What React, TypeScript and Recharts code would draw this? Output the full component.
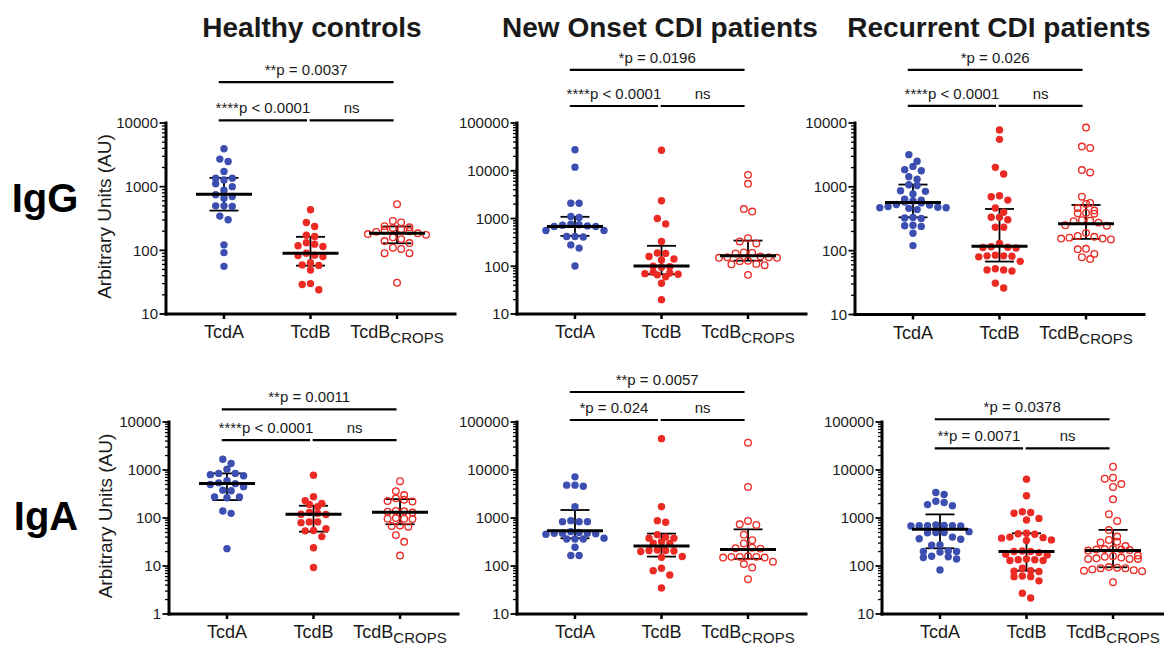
import React from 'react';
import { ScatterChart, Scatter, XAxis, YAxis, ErrorBar, ReferenceLine } from 'recharts';

const FONT = "'Liberation Sans', Arial, Helvetica, sans-serif";
const BLUE = '#3c4fb0';
const RED = '#ec2a24';
const INK = '#1a1a1a';

const categories = ['TcdA', 'TcdB', 'TcdB_CROPS'];
const groupTitles = ['Healthy controls', 'New Onset CDI patients', 'Recurrent CDI patients'];
const isotypes = ['IgG', 'IgA'];
const yAxisTitle = 'Arbitrary Units (AU)';

// ---------- IgG, healthy controls ----------
const hcIgG_TcdA = [3950, 2710, 2490, 1730, 1360, 1360, 1270, 1110, 1000, 880, 745, 700, 660, 500, 500, 490, 345, 303, 122, 92, 56];
const hcIgG_TcdB = [433, 273, 237, 173, 165, 132, 125, 118, 115, 90, 84, 83, 80, 64, 59, 58, 49, 30, 29, 24];
const hcIgG_CROPS = [531, 290, 275, 240, 230, 225, 215, 205, 200, 195, 185, 180, 175, 160, 150, 140, 130, 110, 105, 90, 90, 31];
const hcIgG_median = [762, 90, 186];
const hcIgG_q1 = [421, 57.5, 129];
const hcIgG_q3 = [1375, 163, 237];
const hcIgG_sig = [
  { from: 0, to: 1, level: 11000, label: '****p < 0.0001' },
  { from: 1, to: 2, level: 11000, label: 'ns' },
  { from: 0, to: 2, level: 44000, label: '**p = 0.0037' },
];

// ---------- IgG, new onset ----------
const noIgG_TcdA = [27500, 11900, 2090, 2090, 1100, 1050, 760, 740, 720, 700, 680, 680, 560, 560, 420, 420, 410, 280, 240, 101];
const noIgG_TcdB = [26900, 2350, 1000, 770, 330, 190, 186, 160, 142, 135, 100, 98, 95, 75, 72, 70, 68, 66, 60, 44, 20];
const noIgG_CROPS = [8200, 5330, 1580, 1400, 386, 330, 300, 195, 190, 185, 160, 155, 155, 150, 150, 130, 128, 112, 110, 105, 66];
const noIgG_median = [680, 101, 165];
const noIgG_q1 = [433, 68, 131];
const noIgG_q3 = [1085, 268, 345];
const noIgG_sig = [
  { from: 0, to: 1, level: 227000, label: '****p < 0.0001' },
  { from: 1, to: 2, level: 227000, label: 'ns' },
  { from: 0, to: 2, level: 1290000, label: '*p = 0.0196' },
];

// ---------- IgG, recurrent ----------
const reIgG_TcdA = [3190, 2510, 2090, 1860, 1790, 1440, 1320, 1080, 1050, 870, 850, 775, 640, 620, 600, 580, 560, 530, 520, 490, 480, 470, 470, 460, 440, 330, 325, 320, 250, 246, 240, 187, 120];
const reIgG_TcdB = [7800, 5540, 2020, 1590, 725, 700, 620, 465, 400, 333, 333, 305, 233, 233, 130, 115, 113, 112, 110, 85, 83, 83, 82, 80, 68, 52, 50, 48, 50, 31, 26];
const reIgG_CROPS = [8500, 4270, 4060, 1830, 1680, 700, 560, 540, 465, 425, 390, 385, 380, 300, 295, 290, 275, 250, 246, 190, 170, 165, 160, 155, 155, 150, 107, 105, 89, 79, 74];
const reIgG_median = [566, 117, 263];
const reIgG_q1 = [333, 67.5, 153];
const reIgG_q3 = [1085, 450, 520];
const reIgG_sig = [
  { from: 0, to: 1, level: 18500, label: '****p < 0.0001' },
  { from: 1, to: 2, level: 18500, label: 'ns' },
  { from: 0, to: 2, level: 68000, label: '*p = 0.026' },
];

// ---------- IgA, healthy controls ----------
const hcIgA_TcdA = [1680, 1365, 1040, 850, 850, 800, 760, 600, 540, 520, 500, 450, 380, 370, 275, 275, 265, 140, 125, 23];
const hcIgA_TcdB = [782, 277, 229, 200, 192, 172, 130, 125, 120, 118, 83, 83, 80, 60, 55, 54, 41, 24, 9.3];
const hcIgA_CROPS = [585, 363, 300, 257, 240, 225, 220, 140, 138, 135, 130, 100, 97, 95, 97, 68, 70, 66, 44, 32, 16.5];
const hcIgA_median = [525, 119, 131];
const hcIgA_q1 = [236, 52, 74];
const hcIgA_q3 = [850, 180, 247];
const hcIgA_sig = [
  { from: 0, to: 1, level: 4200, label: '****p < 0.0001' },
  { from: 1, to: 2, level: 4200, label: 'ns' },
  { from: 0, to: 2, level: 18400, label: '**p = 0.0011' },
];

// ---------- IgA, new onset ----------
const noIgA_TcdA = [7200, 4840, 4600, 4840, 1720, 880, 840, 840, 840, 520, 500, 480, 480, 480, 470, 460, 366, 366, 366, 380, 246, 165, 165];
const noIgA_TcdB = [45000, 1720, 880, 815, 450, 400, 380, 380, 320, 300, 295, 215, 210, 210, 205, 200, 158, 152, 90, 80, 65, 35];
const noIgA_CROPS = [37000, 4450, 870, 740, 715, 450, 345, 295, 240, 235, 230, 160, 155, 155, 150, 150, 155, 123, 110, 93, 53];
const noIgA_median = [545, 262, 220];
const noIgA_q1 = [378, 157, 141];
const noIgA_q3 = [1466, 473, 580];
const noIgA_sig = [
  { from: 0, to: 1, level: 110000, label: '*p = 0.024' },
  { from: 1, to: 2, level: 110000, label: 'ns' },
  { from: 0, to: 2, level: 422000, label: '**p = 0.0057' },
];

// ---------- IgA, recurrent ----------
const reIgA_TcdA = [3400, 3080, 2240, 2100, 1900, 1800, 690, 700, 680, 690, 720, 690, 680, 500, 520, 500, 490, 370, 400, 360, 275, 270, 200, 200, 195, 205, 155, 150, 160, 140, 83];
const reIgA_TcdB = [6450, 2910, 1350, 1260, 1300, 980, 910, 480, 460, 470, 400, 390, 380, 350, 340, 200, 205, 175, 170, 190, 200, 135, 130, 140, 130, 135, 90, 77, 78, 80, 60, 49, 62, 60, 27, 21.5];
const reIgA_CROPS = [11700, 6600, 6900, 5100, 4430, 2450, 1200, 870, 560, 410, 350, 320, 310, 230, 220, 210, 225, 215, 220, 260, 160, 155, 140, 140, 145, 165, 150, 140, 90, 92, 80, 82, 90, 85, 95, 78, 46];
const reIgA_median = [580, 200, 210];
const reIgA_q1 = [234, 80, 94];
const reIgA_q3 = [1190, 480, 565];
const reIgA_sig = [
  { from: 0, to: 1, level: 28300, label: '**p = 0.0071' },
  { from: 1, to: 2, level: 28300, label: 'ns' },
  { from: 0, to: 2, level: 114000, label: '*p = 0.0378' },
];

// ---------- layout ----------
const X_DOMAIN: [number, number] = [-0.67, 2.67];
const PLOT_W = 289;
const PX_PER_UNIT = PLOT_W / (X_DOMAIN[1] - X_DOMAIN[0]);
const DOT_STEP = 8.3;
const ROW_H = 7;
const M_TOP = 90;

type Sig = { from: number; to: number; level: number; label: string };
type PanelCfg = {
  id: string;
  left: number;
  top: number;
  h: number;
  yMin: number;
  yMax: number;
  groups: number[][];
  med: number[];
  q1: number[];
  q3: number[];
  sig: Sig[];
  yLabel: boolean;
};

const panels: PanelCfg[] = [
  { id: 'p1', left: 166, top: 123, h: 191, yMin: 10, yMax: 10000, groups: [hcIgG_TcdA, hcIgG_TcdB, hcIgG_CROPS], med: hcIgG_median, q1: hcIgG_q1, q3: hcIgG_q3, sig: hcIgG_sig, yLabel: true },
  { id: 'p2', left: 516.5, top: 123, h: 191, yMin: 10, yMax: 100000, groups: [noIgG_TcdA, noIgG_TcdB, noIgG_CROPS], med: noIgG_median, q1: noIgG_q1, q3: noIgG_q3, sig: noIgG_sig, yLabel: false },
  { id: 'p3', left: 854.5, top: 122.5, h: 191.5, yMin: 10, yMax: 10000, groups: [reIgG_TcdA, reIgG_TcdB, reIgG_CROPS], med: reIgG_median, q1: reIgG_q1, q3: reIgG_q3, sig: reIgG_sig, yLabel: false },
  { id: 'p4', left: 168.5, top: 422, h: 192, yMin: 1, yMax: 10000, groups: [hcIgA_TcdA, hcIgA_TcdB, hcIgA_CROPS], med: hcIgA_median, q1: hcIgA_q1, q3: hcIgA_q3, sig: hcIgA_sig, yLabel: true },
  { id: 'p5', left: 516.5, top: 422, h: 192, yMin: 10, yMax: 100000, groups: [noIgA_TcdA, noIgA_TcdB, noIgA_CROPS], med: noIgA_median, q1: noIgA_q1, q3: noIgA_q3, sig: noIgA_sig, yLabel: false },
  { id: 'p6', left: 882, top: 422, h: 192, yMin: 10, yMax: 100000, groups: [reIgA_TcdA, reIgA_TcdB, reIgA_CROPS], med: reIgA_median, q1: reIgA_q1, q3: reIgA_q3, sig: reIgA_sig, yLabel: false },
];

function logTicks(min: number, max: number): number[] {
  const out: number[] = [];
  const e0 = Math.round(Math.log10(min));
  const e1 = Math.round(Math.log10(max));
  for (let e = e0; e < e1; e++) {
    for (let m = 1; m < 10; m++) out.push(m * Math.pow(10, e));
  }
  out.push(Math.pow(10, e1));
  return out;
}

function isPow10(v: number) {
  const l = Math.log10(v);
  return Math.abs(l - Math.round(l)) < 1e-9;
}

// row-based scatter layout (like a column scatter plot), computed from the values in pixel space
function spread(values: number[], cat: number, pxPerDecade: number) {
  const pts = values.map((v) => ({ v, py: Math.log10(v) * pxPerDecade })).sort((a, b) => b.v - a.v);
  const rows: { v: number; py: number }[][] = [];
  for (const p of pts) {
    const row = rows[rows.length - 1];
    if (row && row[0].py - p.py < ROW_H) row.push(p);
    else rows.push([p]);
  }
  const out: { x: number; y: number }[] = [];
  for (const row of rows) {
    const n = row.length;
    // place alternately left/right of the centre so the row stays symmetric
    const order = row.map((_, j) => j);
    const slots = order.map((j) => (j - (n - 1) / 2) * DOT_STEP);
    const mid = Math.floor(n / 2);
    const sortedSlots = slots.slice().sort((a, b) => Math.abs(a) - Math.abs(b) || a - b);
    row.forEach((p, j) => {
      const off = sortedSlots[j];
      out.push({ x: cat + off / PX_PER_UNIT, y: p.v });
    });
    void mid;
  }
  return out;
}

const YTick = (props: any) => {
  const { x, y, payload } = props;
  const v = payload.value as number;
  const major = isPow10(v);
  return (
    <g>
      <line x1={x - (major ? 6.5 : 4)} x2={x} y1={y} y2={y} stroke="#000" strokeWidth={major ? 1.8 : 1.3} />
      {major && (
        <text x={x - 8} y={y} dy="0.36em" textAnchor="end" fontSize={15} fill={INK} fontFamily={FONT}>
          {String(Math.round(v))}
        </text>
      )}
    </g>
  );
};

const XTick = (props: any) => {
  const { x, y, payload } = props;
  const label = categories[Math.round(payload.value)] || '';
  const [main, sub] = label.split('_');
  return (
    <text x={x} y={y + 19} textAnchor="middle" fontSize={18} fill={INK} fontFamily={FONT}>
      {main}
      {sub && (
        <tspan dy={5} fontSize={15}>
          {sub}
        </tspan>
      )}
    </text>
  );
};

const blueDot = (p: any) => <circle cx={p.cx} cy={p.cy} r={3.7} fill={BLUE} />;
const redDot = (p: any) => <circle cx={p.cx} cy={p.cy} r={3.7} fill={RED} />;
const openDot = (p: any) => <circle cx={p.cx} cy={p.cy} r={3.3} fill="none" stroke={RED} strokeWidth={1.35} />;
const medianShape = (p: any) => (
  <line x1={p.cx - 28} x2={p.cx + 28} y1={p.cy} y2={p.cy} stroke="#000" strokeWidth={3} />
);

function Panel({ cfg }: { cfg: PanelCfg }) {
  const yW = cfg.yLabel ? 86 : 60;
  const H = M_TOP + cfg.h + 45;
  const W = yW + PLOT_W + 10;
  const decades = Math.log10(cfg.yMax / cfg.yMin);
  const pxDec = cfg.h / decades;
  const series = cfg.groups.map((vals, i) => spread(vals, i, pxDec));
  const summary = cfg.med.map((m, i) => ({ x: i, y: m, err: [m - cfg.q1[i], cfg.q3[i] - m] }));
  const divLeft = cfg.left - yW;
  const shapes = [blueDot, redDot, openDot];
  return (
    <div style={{ position: 'absolute', left: divLeft, top: cfg.top - M_TOP }}>
      <ScatterChart width={W} height={H} margin={{ top: M_TOP, right: 10, bottom: 5, left: 0 }}>
        <XAxis
          type="number"
          dataKey="x"
          domain={X_DOMAIN}
          ticks={[0, 1, 2]}
          interval={0}
          allowDataOverflow
          height={40}
          tickSize={5}
          tickMargin={0}
          tick={(p: any) => <XTick {...p} />}
          tickLine={{ stroke: '#000', strokeWidth: 2.5 }}
          axisLine={{ stroke: '#000', strokeWidth: 3, strokeLinecap: 'square' }}
        />
        <YAxis
          type="number"
          dataKey="y"
          scale="log"
          domain={[cfg.yMin, cfg.yMax]}
          allowDataOverflow
          ticks={logTicks(cfg.yMin, cfg.yMax)}
          interval={0}
          width={yW}
          tickSize={0}
          tickMargin={0}
          tickLine={false}
          tick={(p: any) => <YTick {...p} />}
          axisLine={{ stroke: '#000', strokeWidth: 3, strokeLinecap: 'square' }}
          label={
            cfg.yLabel
              ? {
                  content: (lp: any) => {
                    const vb = lp.viewBox || { y: M_TOP, height: cfg.h };
                    const cx = 111 - divLeft;
                    const cy = vb.y + vb.height / 2 - 2;
                    return (
                      <text
                        transform={`translate(${cx}, ${cy}) rotate(-90)`}
                        textAnchor="middle"
                        fontSize={19}
                        fill={INK}
                        fontFamily={FONT}
                      >
                        {yAxisTitle}
                      </text>
                    );
                  },
                }
              : undefined
          }
        />
        {series.map((d, i) => (
          <Scatter key={i} data={d} isAnimationActive={false} shape={shapes[i]} />
        ))}
        <Scatter data={summary} isAnimationActive={false} shape={medianShape}>
          <ErrorBar dataKey="err" direction="y" width={14.5} stroke="#000" strokeWidth={1.8} isAnimationActive={false} />
        </Scatter>
        {cfg.sig.map((b, i) => (
          <ReferenceLine
            key={'s' + i}
            segment={[
              { x: b.from === 0 ? -0.06 : b.from - 0.01, y: b.level },
              { x: b.to - 0.04, y: b.level },
            ]}
            stroke="#000"
            strokeWidth={2.2}
            ifOverflow="visible"
            label={{ value: b.label, position: 'top', offset: 7, fill: INK, fontSize: 15, fontFamily: FONT }}
          />
        ))}
      </ScatterChart>
    </div>
  );
}

export default function App() {
  const titleX = [312, 660, 999];
  return (
    <div style={{ position: 'relative', width: 1164, height: 646, overflow: 'hidden', background: '#fff', fontFamily: FONT }}>
      <style>{'body{margin:0}'}</style>
      <svg width={1164} height={646} style={{ position: 'absolute', left: 0, top: 0 }}>
        {groupTitles.map((t, i) => (
          <text key={t} x={titleX[i]} y={37} textAnchor="middle" fontSize={28} fontWeight="bold" fill={INK} fontFamily={FONT}>
            {t}
          </text>
        ))}
        <text x={45} y={212} textAnchor="middle" fontSize={40} fontWeight="bold" fill="#000" fontFamily={FONT}>
          {isotypes[0]}
        </text>
        <text x={46} y={530} textAnchor="middle" fontSize={40} fontWeight="bold" fill="#000" fontFamily={FONT}>
          {isotypes[1]}
        </text>
      </svg>
      {panels.map((p) => (
        <Panel key={p.id} cfg={p} />
      ))}
    </div>
  );
}
